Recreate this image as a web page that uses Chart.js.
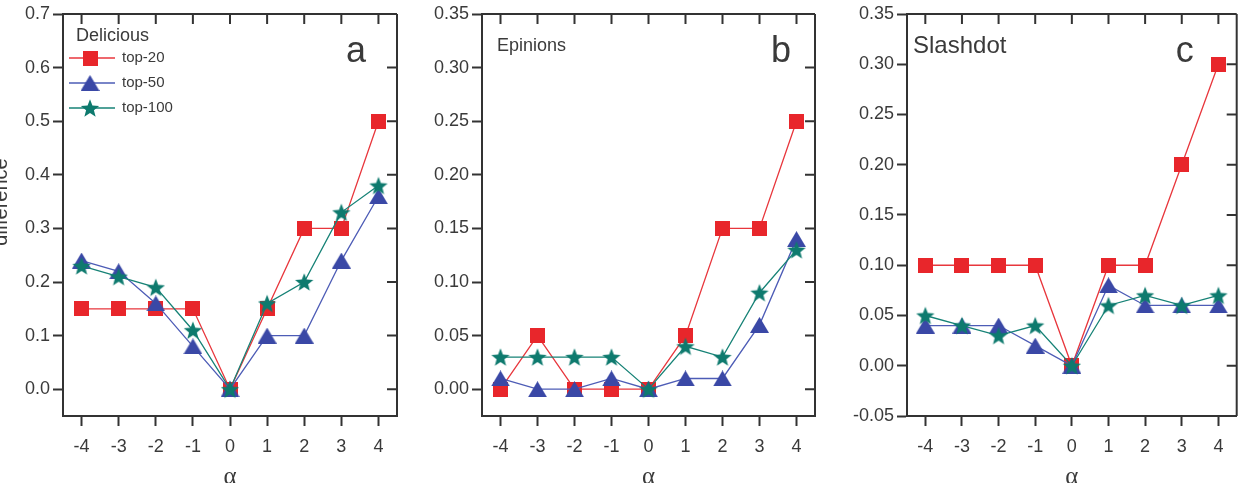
<!DOCTYPE html>
<html><head><meta charset="utf-8">
<script src="https://cdn.jsdelivr.net/npm/chart.js@4.4.1/dist/chart.umd.min.js"></script>
<style>
html,body{margin:0;padding:0;background:#fff;}
#wrap{position:relative;width:1248px;height:483px;overflow:hidden;background:#fff;}
canvas{position:absolute;top:0;}
</style></head><body>
<div id="wrap">
<canvas id="ca" width="420" height="483" style="left:0px"></canvas>
<canvas id="cb" width="410" height="483" style="left:420px"></canvas>
<canvas id="cc" width="418" height="483" style="left:830px"></canvas>
</div>
<script>
// ---- data ----
const alpha = [-4, -3, -2, -1, 0, 1, 2, 3, 4];
const seriesNames = ['top-20', 'top-50', 'top-100'];

const deliciousTop20  = [0.15, 0.15, 0.15, 0.15, 0.00, 0.15, 0.30, 0.30, 0.50];
const deliciousTop50  = [0.24, 0.22, 0.16, 0.08, 0.00, 0.10, 0.10, 0.24, 0.36];
const deliciousTop100 = [0.23, 0.21, 0.19, 0.11, 0.00, 0.16, 0.20, 0.33, 0.38];

const epinionsTop20  = [0.00, 0.05, 0.00, 0.00, 0.00, 0.05, 0.15, 0.15, 0.25];
const epinionsTop50  = [0.01, 0.00, 0.00, 0.01, 0.00, 0.01, 0.01, 0.06, 0.14];
const epinionsTop100 = [0.03, 0.03, 0.03, 0.03, 0.00, 0.04, 0.03, 0.09, 0.13];

const slashdotTop20  = [0.10, 0.10, 0.10, 0.10, 0.00, 0.10, 0.10, 0.20, 0.30];
const slashdotTop50  = [0.04, 0.04, 0.04, 0.02, 0.00, 0.08, 0.06, 0.06, 0.06];
const slashdotTop100 = [0.05, 0.04, 0.03, 0.04, 0.00, 0.06, 0.07, 0.06, 0.07];

const yTicksA = [0.0, 0.1, 0.2, 0.3, 0.4, 0.5, 0.6, 0.7];
const yTicksB = [0.00, 0.05, 0.10, 0.15, 0.20, 0.25, 0.30, 0.35];
const yTicksC = [-0.05, 0.00, 0.05, 0.10, 0.15, 0.20, 0.25, 0.30, 0.35];

// ---- styles ----
const FONT = "'Liberation Sans', Arial, Helvetica, sans-serif";
const AXIS = '#333333';
const TEXT = '#3a3a3a';
Chart.defaults.font.family = FONT;

function mkSquare(color, s) {
  const c = document.createElement('canvas'); c.width = s; c.height = s;
  const g = c.getContext('2d'); g.fillStyle = color; g.fillRect(0, 0, s, s); return c;
}
function mkTriangle(color, w, h) {
  const c = document.createElement('canvas'); c.width = w; c.height = h;
  const g = c.getContext('2d'); g.fillStyle = color;
  g.beginPath(); g.moveTo(w / 2, 0); g.lineTo(w, h); g.lineTo(0, h); g.closePath(); g.fill(); return c;
}
function mkStar(color, R, r) {
  const s = Math.ceil(2 * R + 2);
  const c = document.createElement('canvas'); c.width = s; c.height = s;
  const g = c.getContext('2d'); g.fillStyle = color;
  g.translate(s / 2, s / 2 + R * 0.095);
  g.beginPath();
  for (let i = 0; i < 10; i++) {
    const rad = i % 2 === 0 ? R : r;
    const a = -Math.PI / 2 + i * Math.PI / 5;
    const x = rad * Math.cos(a), y = rad * Math.sin(a);
    if (i === 0) g.moveTo(x, y); else g.lineTo(x, y);
  }
  g.closePath(); g.fill(); return c;
}

const markers = [
  mkSquare('#E8262B', 15),
  mkTriangle('#3A48A6', 19, 16),
  mkStar('#0E7A6E', 9.6, 4.1)
];
const lineColors = ['#E8363C', '#4D5CB6', '#168276'];
const orders = [3, 2, 1];

function buildDatasets(series) {
  return series.map((vals, i) => ({
    label: seriesNames[i],
    data: alpha.map((a, k) => ({ x: a, y: vals[k] })),
    borderColor: lineColors[i],
    backgroundColor: lineColors[i],
    borderWidth: 1.3,
    pointStyle: markers[i],
    pointRadius: 10,
    pointHoverRadius: 10,
    tension: 0,
    fill: false,
    clip: false,
    order: orders[i]
  }));
}

const framePlugin = {
  id: 'frame',
  beforeDatasetsDraw(chart) {
    const { ctx, chartArea: ca } = chart;
    const xs = chart.scales.x, ys = chart.scales.y;
    ctx.save();
    ctx.strokeStyle = AXIS; ctx.lineWidth = 2;
    ctx.beginPath();
    ctx.moveTo(ca.left, ca.top); ctx.lineTo(ca.right, ca.top);
    ctx.moveTo(ca.right, ca.top); ctx.lineTo(ca.right, ca.bottom);
    xs.ticks.forEach(t => {
      const px = xs.getPixelForValue(t.value);
      ctx.moveTo(px, ca.top); ctx.lineTo(px, ca.top + 10);
    });
    ys.ticks.forEach(t => {
      const py = ys.getPixelForValue(t.value);
      ctx.moveTo(ca.right, py); ctx.lineTo(ca.right - 10, py);
    });
    ctx.stroke();
    ctx.restore();
  },
  afterDraw(chart, args, opts) {
    const { ctx, chartArea: ca } = chart;
    ctx.save();
    ctx.fillStyle = TEXT;
    // dataset name
    ctx.textBaseline = 'alphabetic'; ctx.textAlign = 'left';
    ctx.font = opts.nameSize + 'px ' + FONT;
    ctx.fillText(opts.name, ca.left + opts.nameDx, ca.top + opts.nameDy);
    // panel letter
    ctx.font = '36px ' + FONT;
    ctx.textAlign = 'center';
    ctx.fillText(opts.letter, ca.right - opts.letterDx, ca.top + 48);
    // alpha title
    ctx.font = '25px "Liberation Serif", "DejaVu Serif", serif';
    ctx.fillText('\u03B1', (ca.left + ca.right) / 2, 484);
    // y title
    if (opts.yTitle) {
      ctx.save();
      ctx.translate(7, 202);
      ctx.rotate(-Math.PI / 2);
      ctx.font = '20px ' + FONT;
      ctx.textAlign = 'center'; ctx.textBaseline = 'alphabetic';
      ctx.fillText(opts.yTitle, 0, 0);
      ctx.restore();
    }
    // legend
    if (opts.legend) {
      ctx.font = '15px ' + FONT;
      ctx.textAlign = 'left'; ctx.textBaseline = 'middle';
      seriesNames.forEach((nm, i) => {
        const y = ca.top + 44 + i * 25;
        const x0 = ca.left + 6, x1 = ca.left + 52, xm = ca.left + 27;
        ctx.strokeStyle = lineColors[i]; ctx.lineWidth = 1.3;
        ctx.beginPath(); ctx.moveTo(x0, y); ctx.lineTo(x1, y); ctx.stroke();
        const m = markers[i];
        ctx.drawImage(m, xm - m.width / 2, y - m.height / 2);
        ctx.fillStyle = TEXT;
        ctx.fillText(nm, ca.left + 59, y);
      });
    }
    ctx.restore();
  }
};

function makePanel(id, series, cfg) {
  return new Chart(document.getElementById(id), {
    type: 'line',
    data: { datasets: buildDatasets(series) },
    options: {
      responsive: false,
      animation: false,
      events: [],
      layout: { padding: { left: 0, right: cfg.padRight, top: 14, bottom: 0 } },
      plugins: {
        legend: { display: false },
        tooltip: { enabled: false },
        frame: cfg.frame
      },
      scales: {
        x: {
          type: 'linear', min: -4.5, max: 4.5,
          afterBuildTicks: s => { s.ticks = alpha.map(v => ({ value: v })); },
          afterFit: s => { s.height = 67; },
          ticks: { autoSkip: false, maxRotation: 0, color: TEXT, font: { size: 18 }, padding: 10,
                   callback: v => String(v) },
          grid: { drawOnChartArea: false, drawTicks: true, tickLength: 10, tickWidth: 2, tickColor: AXIS, color: AXIS },
          border: { display: true, color: AXIS, width: 2 }
        },
        y: {
          type: 'linear', min: cfg.yMin, max: cfg.yMax,
          afterBuildTicks: s => { s.ticks = cfg.yTicks.map(v => ({ value: v })); },
          afterFit: s => { s.width = cfg.yWidth; },
          ticks: { autoSkip: false, color: TEXT, font: { size: 18 }, padding: 3,
                   callback: v => Number(v).toFixed(cfg.dec) },
          grid: { drawOnChartArea: false, drawTicks: true, tickLength: 10, tickWidth: 2, tickColor: AXIS, color: AXIS },
          border: { display: true, color: AXIS, width: 2 }
        }
      }
    },
    plugins: [framePlugin]
  });
}

makePanel('ca', [deliciousTop20, deliciousTop50, deliciousTop100], {
  yMin: -0.05, yMax: 0.7, yTicks: yTicksA, dec: 1, yWidth: 63, padRight: 23,
  frame: { name: 'Delicious', nameSize: 18, nameDx: 13, nameDy: 27, letter: 'a', letterDx: 41, yTitle: 'difference', legend: true }
});
makePanel('cb', [epinionsTop20, epinionsTop50, epinionsTop100], {
  yMin: -0.025, yMax: 0.35, yTicks: yTicksB, dec: 2, yWidth: 62, padRight: 15,
  frame: { name: 'Epinions', nameSize: 18, nameDx: 15, nameDy: 37, letter: 'b', letterDx: 34, yTitle: null, legend: false }
});
makePanel('cc', [slashdotTop20, slashdotTop50, slashdotTop100], {
  yMin: -0.05, yMax: 0.35, yTicks: yTicksC, dec: 2, yWidth: 77, padRight: 9,
  frame: { name: 'Slashdot', nameSize: 24, nameDx: 6, nameDy: 39, letter: 'c', letterDx: 52, yTitle: null, legend: false }
});
</script>
</body></html>
